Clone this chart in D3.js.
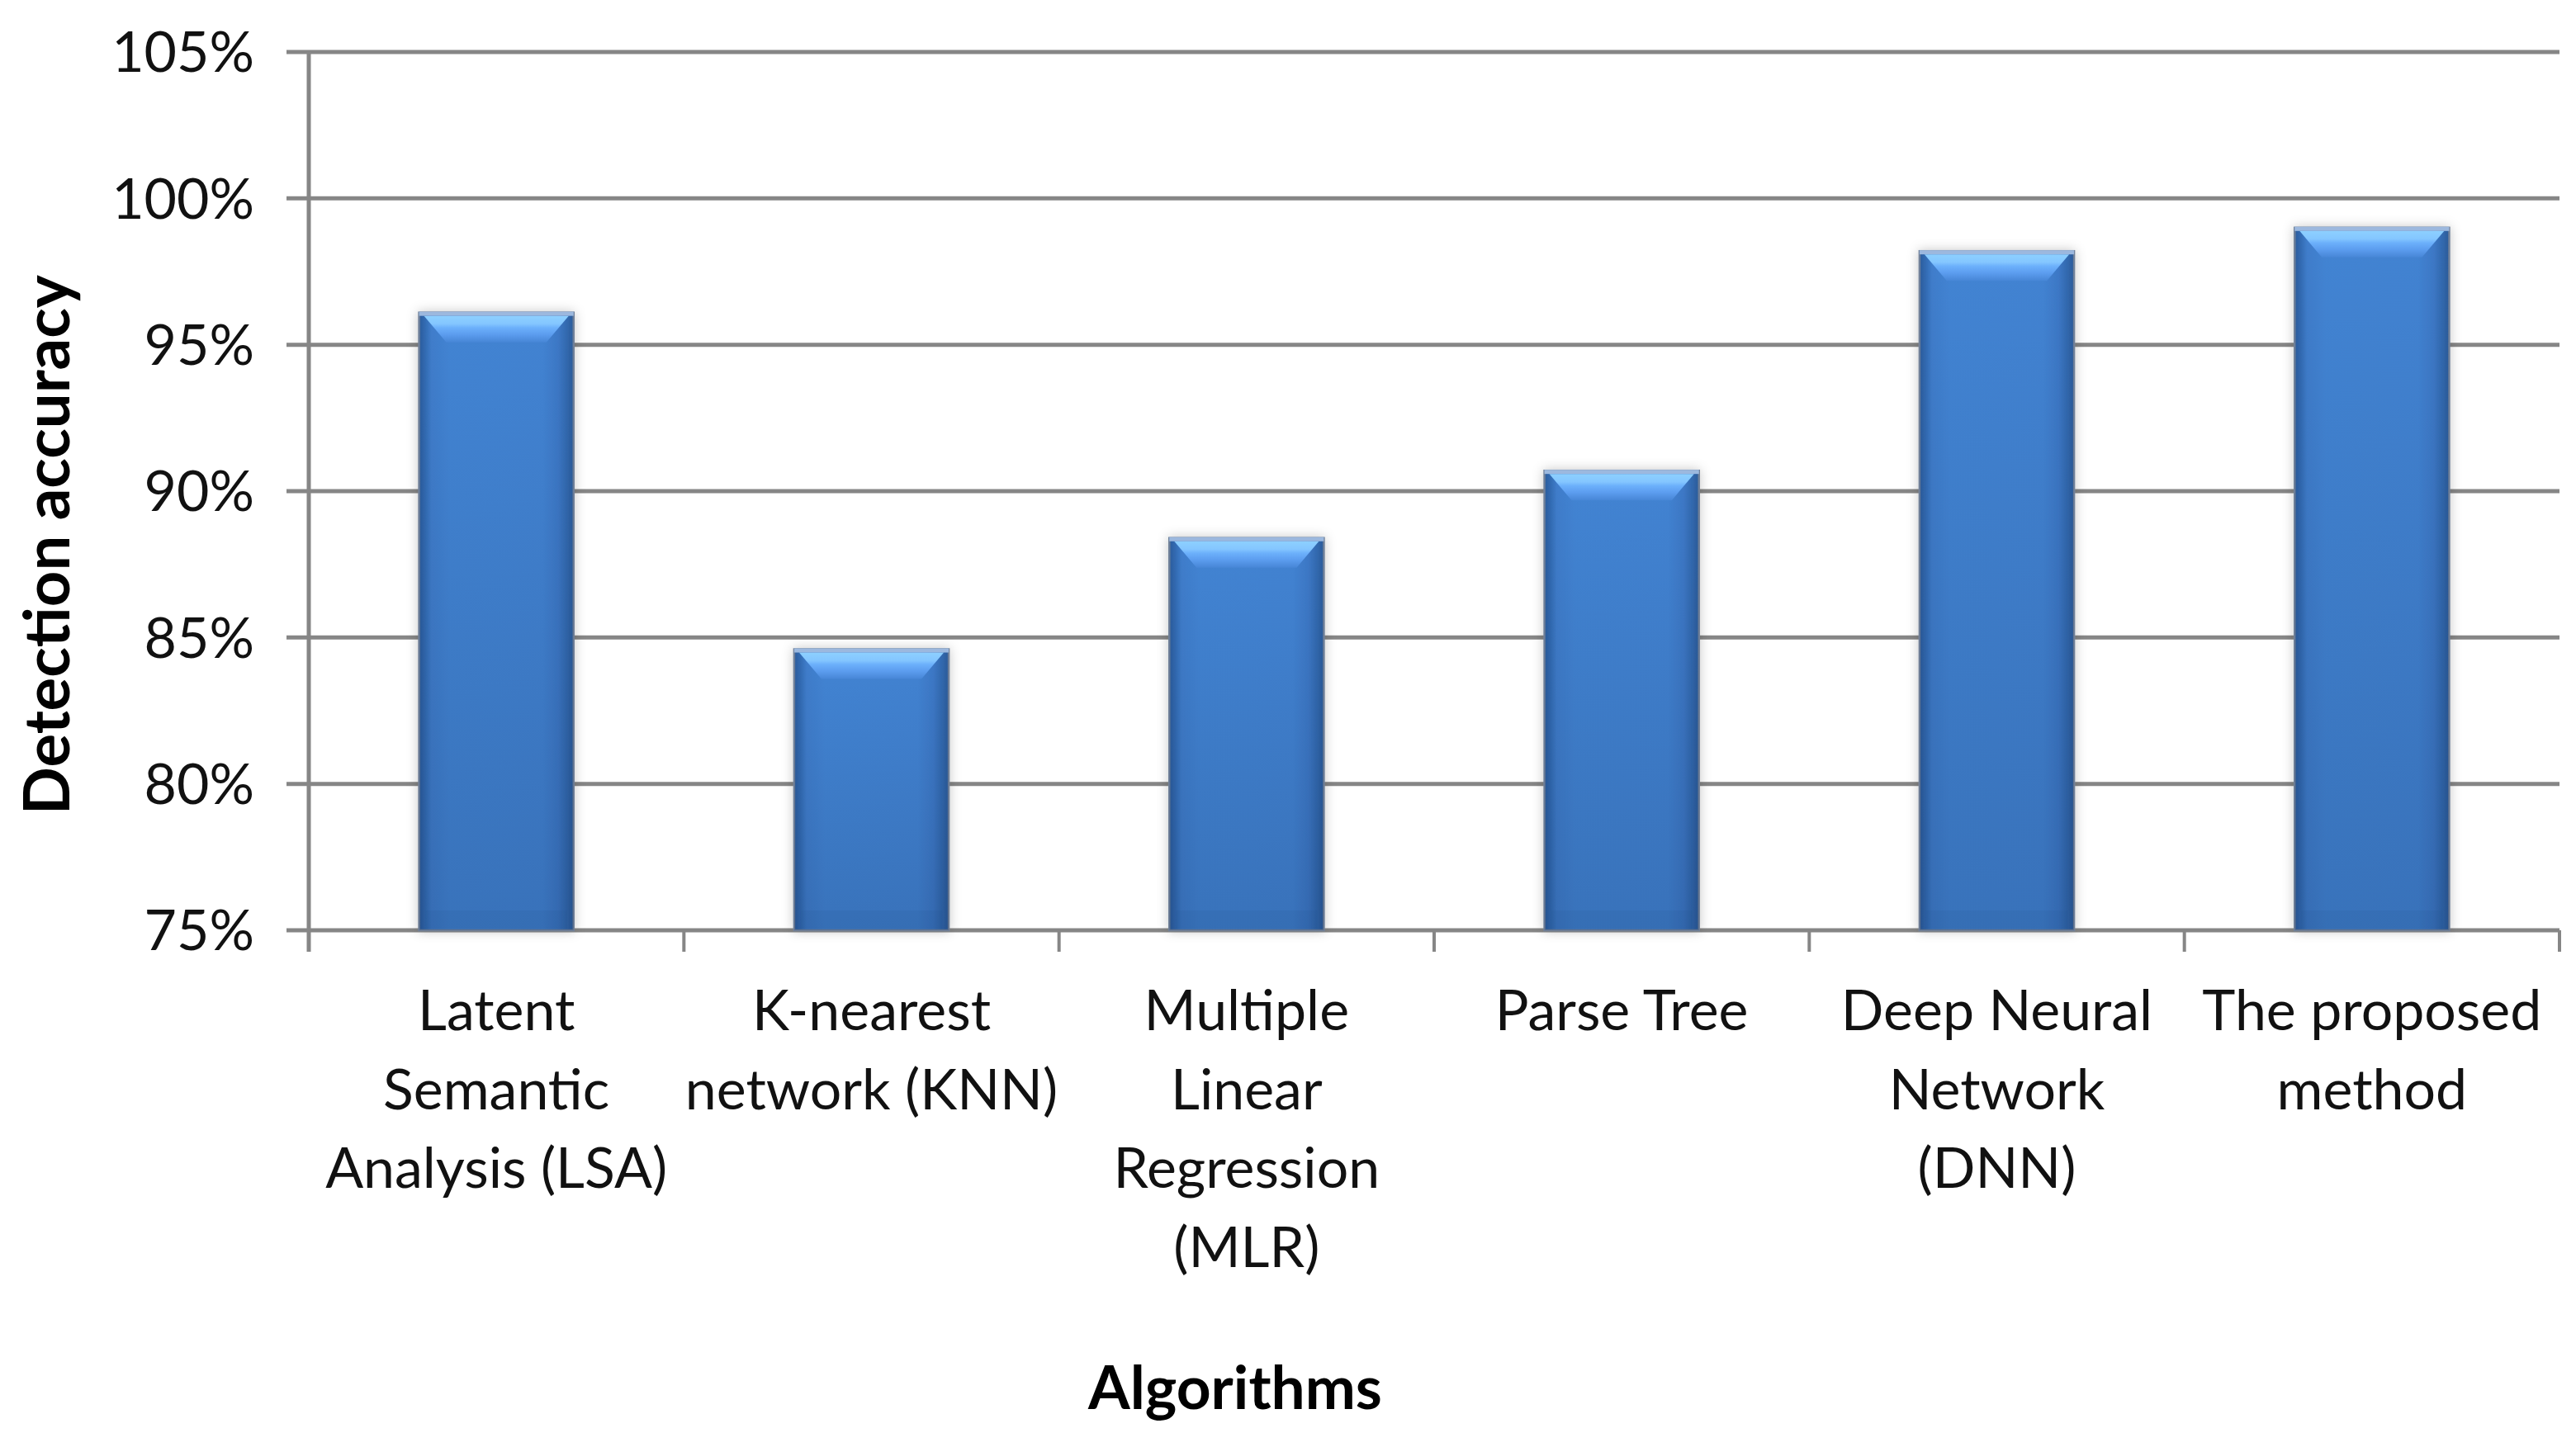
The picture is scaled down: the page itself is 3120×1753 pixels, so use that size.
<!DOCTYPE html>
<html>
<head>
<meta charset="utf-8">
<script src="https://cdn.jsdelivr.net/npm/d3@7"></script>
<style>
  html, body { margin: 0; padding: 0; background: #ffffff; }
  svg { display: block; }
</style>
</head>
<body>
<svg id="chart" width="3120" height="1753"></svg>
<script>
// ---- data ----
const categories = ["LSA", "KNN", "MLR", "Parse Tree", "DNN", "Proposed"];
const categoryLabels = [
  ["Latent", "Semantic", "Analysis (LSA)"],
  ["K-nearest", "network (KNN)"],
  ["Multiple", "Linear", "Regression", "(MLR)"],
  ["Parse Tree"],
  ["Deep Neural", "Network", "(DNN)"],
  ["The proposed", "method"]
];
const accuracy = [0.961, 0.846, 0.884, 0.907, 0.982, 0.990];
const yTicks = [0.75, 0.80, 0.85, 0.90, 0.95, 1.00, 1.05];
const yTitle = "Detection accuracy";
const xTitle = "Algorithms";

// ---- layout ----
const W = 3120, H = 1753;
const plot = { left: 374, right: 3100, top: 63, bottom: 1127 };
const svg = d3.select("#chart");
const font = "Lato, 'Open Sans', sans-serif";

const x = d3.scaleBand().domain(categories).range([plot.left, plot.right]).padding(0);
const y = d3.scaleLinear().domain([0.75, 1.05]).range([plot.bottom, plot.top]);
const barW = x.bandwidth() * 0.412;

// ---- defs ----
const defs = svg.append("defs");
const hg = defs.append("linearGradient").attr("id", "hgrad").attr("x1", 0).attr("x2", 1).attr("y1", 0).attr("y2", 0);
[[0, "#2b5c9c"], [0.035, "#3169b0"], [0.08, "#3f7dcb"], [0.2, "#4384d3"], [0.8, "#4283d2"], [0.9, "#3d78c6"], [0.96, "#3168ad"], [1, "#2b5a98"]]
  .forEach(([o, c]) => hg.append("stop").attr("offset", o).attr("stop-color", c));
const vg = defs.append("linearGradient").attr("id", "vgrad").attr("x1", 0).attr("x2", 0).attr("y1", 0).attr("y2", 1);
vg.append("stop").attr("offset", 0).attr("stop-color", "rgb(10,30,70)").attr("stop-opacity", 0);
vg.append("stop").attr("offset", 1).attr("stop-color", "rgb(10,30,70)").attr("stop-opacity", 0.17);
const bg = defs.append("linearGradient").attr("id", "bevel").attr("x1", 0).attr("x2", 0).attr("y1", 0).attr("y2", 1);
[[0, "#8dd0ff"], [0.3, "#84c6ff"], [0.45, "#6cb0fb"], [0.7, "#5c9def"], [1, "#4786d6"]]
  .forEach(([o, c]) => bg.append("stop").attr("offset", o).attr("stop-color", c));
const sh = defs.append("filter").attr("id", "shadow").attr("x", "-30%").attr("y", "-10%").attr("width", "160%").attr("height", "120%");
sh.append("feDropShadow").attr("dx", 0).attr("dy", 0).attr("stdDeviation", 7).attr("flood-color", "#000").attr("flood-opacity", 0.22);

// ---- gridlines ----
svg.append("g").selectAll("line").data(yTicks).join("line")
  .attr("x1", plot.left - 27).attr("x2", plot.right)
  .attr("y1", d => y(d)).attr("y2", d => y(d))
  .attr("stroke", "#868686").attr("stroke-width", 5);

// vertical axis line
svg.append("line")
  .attr("x1", plot.left).attr("x2", plot.left)
  .attr("y1", y(1.05) - 2).attr("y2", plot.bottom + 26)
  .attr("stroke", "#868686").attr("stroke-width", 5);

// category tick marks
const bounds = categories.map(c => x(c)).concat([x.range()[1]]);
svg.append("g").selectAll("line").data(bounds.slice(1)).join("line")
  .attr("x1", d => d).attr("x2", d => d)
  .attr("y1", plot.bottom).attr("y2", plot.bottom + 26)
  .attr("stroke", "#868686").attr("stroke-width", 4);

// ---- y axis labels ----
const yAxis = d3.axisLeft(y).tickValues(yTicks).tickFormat(d3.format(".0%")).tickSize(0).tickPadding(0);
const yg = svg.append("g").attr("transform", `translate(${plot.left - 66},0)`).call(yAxis);
yg.select(".domain").remove();
yg.selectAll("text").attr("font-family", font).attr("font-size", 68).attr("fill", "#111").attr("dy", "0.35em");

// ---- bars ----
const bars = svg.append("g").selectAll("g").data(categories).join("g")
  .attr("transform", (c) => `translate(${x(c) + (x.bandwidth() - barW) / 2},0)`);

bars.append("rect")
  .attr("x", 0).attr("width", barW)
  .attr("y", (c, i) => y(accuracy[i]))
  .attr("height", (c, i) => plot.bottom - y(accuracy[i]))
  .attr("fill", "url(#hgrad)")
  .attr("stroke", "#6f8099").attr("stroke-width", 2.5)
  .attr("filter", "url(#shadow)");

bars.append("rect")
  .attr("x", 0).attr("width", barW)
  .attr("y", (c, i) => y(accuracy[i]))
  .attr("height", (c, i) => plot.bottom - y(accuracy[i]))
  .attr("fill", "url(#vgrad)");

// top bevel
bars.append("polygon")
  .attr("points", (c, i) => {
    const t = y(accuracy[i]) + 4;
    return [[6, t], [barW - 6, t], [barW - 33, t + 32], [33, t + 32]].map(p => p.join(",")).join(" ");
  })
  .attr("fill", "url(#bevel)");

// top edge strip
bars.append("rect")
  .attr("x", 0).attr("width", barW)
  .attr("y", (c, i) => y(accuracy[i]) - 1)
  .attr("height", 5)
  .attr("fill", "#9cb8de");

// bottom subtle band
bars.append("rect")
  .attr("x", 8).attr("width", barW - 16)
  .attr("y", plot.bottom - 24).attr("height", 22)
  .attr("fill", "#24508a").attr("opacity", 0.12);

// ---- category labels ----
const lab = svg.append("g").selectAll("text").data(categories).join("text")
  .attr("font-family", font).attr("font-size", 68).attr("fill", "#111")
  .attr("text-anchor", "middle");
lab.each(function (c, i) {
  const t = d3.select(this);
  categoryLabels[i].forEach((line, k) => {
    t.append("tspan").attr("x", x(c) + x.bandwidth() / 2).attr("y", 1248 + k * 95.5).text(line);
  });
});

// ---- axis titles ----
svg.append("text")
  .attr("x", 1496).attr("y", 1707)
  .attr("text-anchor", "middle")
  .attr("font-family", font).attr("font-weight", "bold").attr("font-size", 73).attr("fill", "#000")
  .text(xTitle);

svg.append("text")
  .attr("transform", "translate(84,660) rotate(-90)")
  .attr("text-anchor", "middle")
  .attr("font-family", font).attr("font-weight", "bold").attr("font-size", 76).attr("fill", "#000")
  .text(yTitle);
</script>
</body>
</html>
